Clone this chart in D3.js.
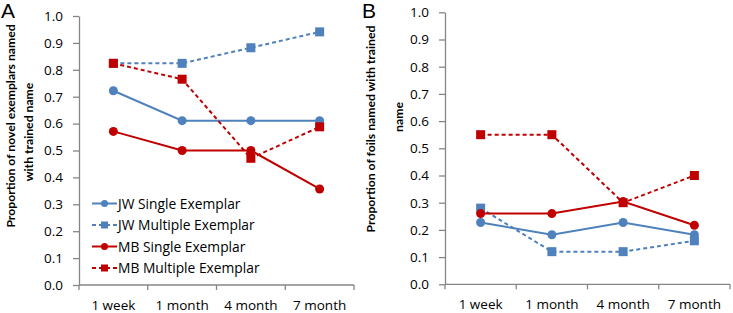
<!DOCTYPE html>
<html>
<head>
<meta charset="utf-8">
<script src="https://cdn.jsdelivr.net/npm/d3@7"></script>
<style>
  body { margin: 0; background: #fff; }
  text { font-family: "Open Sans", sans-serif; fill: #000; }
</style>
</head>
<body>
<svg width="733" height="313"></svg>
<script>
const categories = ['1 week', '1 month', '4 month', '7 month'];
const yTicks = [0, 0.1, 0.2, 0.3, 0.4, 0.5, 0.6, 0.7, 0.8, 0.9, 1.0];

const seriesNames = ['JW Single Exemplar', 'JW Multiple Exemplar', 'MB Single Exemplar', 'MB Multiple Exemplar'];

// panel A: novel exemplars
const aJwSingle = [0.722, 0.611, 0.611, 0.611];
const aJwMultiple = [0.824, 0.824, 0.882, 0.941];
const aMbSingle = [0.571, 0.5, 0.5, 0.357];
const aMbMultiple = [0.824, 0.765, 0.471, 0.588];

// panel B: foils
const bJwSingle = [0.227, 0.182, 0.227, 0.182];
const bJwMultiple = [0.28, 0.12, 0.12, 0.16];
const bMbSingle = [0.26, 0.26, 0.304, 0.217];
const bMbMultiple = [0.55, 0.55, 0.3, 0.4];

const blue = '#4f81bd';
const red = '#c00000';
const styles = [
  {color: blue, dash: null, shape: 'circle'},
  {color: blue, dash: '4,3', shape: 'square'},
  {color: red, dash: null, shape: 'circle'},
  {color: red, dash: '4,3', shape: 'square'}
];

const svg = d3.select('svg');

function drawPanel(opts) {
  const x = d3.scaleBand().domain(categories).range([opts.left, opts.right]);
  const y = d3.scaleLinear().domain([0, 1]).range([opts.bottom, opts.top]);
  const g = svg.append('g');

  // y axis
  const yAxis = g.append('g')
    .attr('transform', `translate(${opts.left},0)`)
    .call(d3.axisLeft(y).tickValues(yTicks).tickFormat(d3.format('.1f')).tickSize(6).tickSizeOuter(0).tickPadding(10));
  // x axis, ticks sit between categories
  const xAxis = g.append('g')
    .attr('transform', `translate(0,${opts.bottom})`);
  xAxis.append('line')
    .attr('x1', opts.left).attr('x2', opts.right)
    .attr('y1', 0).attr('y2', 0);
  const bounds = categories.map(c => x(c)).concat([opts.right]);
  xAxis.selectAll('.tk').data(bounds).enter().append('line')
    .attr('class', 'tk')
    .attr('x1', d => d).attr('x2', d => d)
    .attr('y1', 0).attr('y2', 5);
  xAxis.selectAll('.lb').data(categories).enter().append('text')
    .attr('class', 'lb')
    .attr('x', d => x(d) + x.bandwidth() / 2)
    .attr('y', 25)
    .attr('text-anchor', 'middle')
    .style('font-size', '13.5px')
    .text(d => d);
  xAxis.selectAll('line').attr('stroke', '#868686').attr('stroke-width', 1.3);

  yAxis.select('.domain').attr('stroke', '#868686').attr('stroke-width', 1.3);
  yAxis.selectAll('.tick line').attr('stroke', '#868686').attr('stroke-width', 1.3);
  yAxis.selectAll('.tick text').style('font-size', '13.5px').style('font-family', '"Open Sans", sans-serif');

  // series
  const line = d3.line()
    .x((d, i) => x(categories[i]) + x.bandwidth() / 2)
    .y(d => y(d));
  opts.series.forEach((vals, k) => {
    const st = styles[k];
    g.append('path')
      .attr('d', line(vals))
      .attr('fill', 'none')
      .attr('stroke', st.color)
      .attr('stroke-width', 2)
      .attr('stroke-dasharray', st.dash);
    vals.forEach((v, i) => {
      const cx = x(categories[i]) + x.bandwidth() / 2;
      if (st.shape === 'circle') {
        g.append('circle').attr('cx', cx).attr('cy', y(v)).attr('r', 4.5).attr('fill', st.color);
      } else {
        g.append('rect').attr('x', cx - 4.5).attr('y', y(v) - 4.5)
          .attr('width', 9).attr('height', 9).attr('fill', st.color);
      }
    });
  });

  // panel letter
  svg.append('text')
    .attr('x', opts.letterX).attr('y', 18)
    .style('font-family', 'Liberation Sans, Arial, sans-serif')
    .style('font-size', '21px')
    .text(opts.letter);

  // y title, two lines
  opts.title.forEach(t => {
    svg.append('text')
      .attr('transform', `translate(${t.x},${t.cy}) rotate(-90)`)
      .attr('text-anchor', 'middle')
      .style('font-family', 'Lato, sans-serif')
      .style('font-weight', 'bold')
      .style('font-size', '12.2px')
      .text(t.text);
  });

  return {x, y};
}

drawPanel({
  left: 79, right: 354, top: 16, bottom: 285,
  series: [aJwSingle, aJwMultiple, aMbSingle, aMbMultiple],
  letter: 'A', letterX: 1,
  title: [
    {text: 'Proportion of novel exemplars named', x: 15, cy: 126},
    {text: 'with trained name', x: 33, cy: 132}
  ]
});

drawPanel({
  left: 445, right: 730, top: 12.3, bottom: 284.3,
  series: [bJwSingle, bJwMultiple, bMbSingle, bMbMultiple],
  letter: 'B', letterX: 362,
  title: [
    {text: 'Proportion of foils named with trained', x: 375, cy: 129},
    {text: 'name', x: 403, cy: 117}
  ]
});

// legend inside panel A
const legend = svg.append('g').attr('transform', 'translate(92,203.5)');
const rows = legend.selectAll('g').data(seriesNames).enter().append('g')
  .attr('transform', (d, i) => `translate(0,${i * 21.5})`);
rows.each(function(name, k) {
  const st = styles[k];
  const r = d3.select(this);
  r.append('line').attr('x1', 0).attr('x2', 25).attr('y1', 0).attr('y2', 0)
    .attr('stroke', st.color).attr('stroke-width', 2).attr('stroke-dasharray', st.dash);
  if (st.shape === 'circle') {
    r.append('circle').attr('cx', 12.5).attr('cy', 0).attr('r', 3.5).attr('fill', st.color);
  } else {
    r.append('rect').attr('x', 9).attr('y', -3.5).attr('width', 7).attr('height', 7).attr('fill', st.color);
  }
  r.append('text').attr('x', 26).attr('y', 5).style('font-size', '13.8px').text(name);
});
</script>
</body>
</html>
